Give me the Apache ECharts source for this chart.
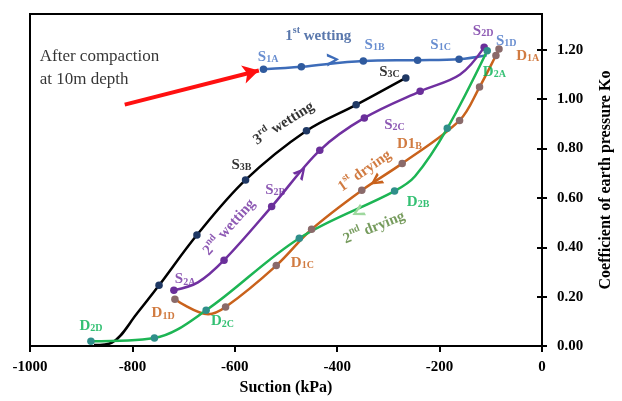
<!DOCTYPE html>
<html><head><meta charset="utf-8">
<script src="https://cdn.jsdelivr.net/npm/echarts@6/dist/echarts.min.js"></script>
<style>html,body{margin:0;padding:0;background:#fff}#c{width:622px;height:401px}</style>
</head><body><div id="c"></div>
<script>
// ---- data (suction kPa, Ko, dot flag) ----
const wetting1 = [[-544,1.121,1],[-470,1.131,1],[-349,1.155,1],[-243,1.158,1],[-162,1.162,1],[-108,1.178,0]];
const wetting2 = [[-719,0.226,1],[-672,0.258,0],[-621,0.348,1],[-528,0.565,1],[-434,0.793,1],[-347,0.924,1],[-238,1.032,1],[-160,1.10,0],[-113,1.21,1]];
const wetting3 = [[-875,0.004,0],[-840,0.014,0],[-790,0.135,0],[-748,0.246,1],[-674,0.45,1],[-579,0.673,1],[-460,0.872,1],[-363,0.977,1],[-266,1.086,1]];
const drying1 = [[-84,1.203,1],[-90,1.177,1],[-122,1.049,1],[-161,0.914,1],[-273,0.74,1],[-352,0.631,1],[-450,0.473,1],[-519,0.326,1],[-618,0.158,1],[-652,0.129,0],[-717,0.19,1]];
const drying2 = [[-107,1.196,1],[-185,0.882,1],[-248,0.688,0],[-288,0.628,1],[-474,0.437,1],[-656,0.145,1],[-757,0.033,1],[-881,0.02,1]];
// arrows on curves: [suction, Ko, direction deg]
const arrow1 = [-408,1.16,3];
const arrow2 = [-470,0.704,50];
const arrow3 = [-325,0.668,214];
const arrow4 = [-360,0.542,207];
// red pointer arrow
const pointerFrom = [-815,0.978];
const pointerTo = [-553,1.116];
const xTicks = [-1000,-800,-600,-400,-200,0];
const yTicks = [0,0.2,0.4,0.6,0.8,1.0,1.2];
// annotations: [suction, Ko, text, group, rotate]
const notes = [
 [-437,1.262,'{m|1}{p|st}{m| wetting}','w1',0],
 [-535,1.176,'{m|S}{s|1A}','s1',0],
 [-327,1.227,'{m|S}{s|1B}','s1',0],
 [-198,1.227,'{m|S}{s|1C}','s1',0],
 [-70,1.243,'{m|S}{s|1D}','s1',0],
 [-115,1.282,'{m|S}{s|2D}','s2',0],
 [-28,1.18,'{m|D}{s|1A}','d1',0],
 [-93,1.116,'{m|D}{s|2A}','d2',0],
 [-298,1.116,'{m|S}{s|3C}','s3',0],
 [-506,0.907,'{m|3}{p|rd}{m| wetting}','s3',32],
 [-587,0.738,'{m|S}{s|3B}','s3',0],
 [-288,0.903,'{m|S}{s|2C}','s2',0],
 [-259,0.824,'{m|D1}{s|B}','d1',0],
 [-348,0.714,'{m|1}{p|st}{m| drying}','d1',35],
 [-521,0.639,'{m|S}{s|2B}','s2',0],
 [-613,0.485,'{m|2}{p|nd}{m| wetting}','s2',48],
 [-697,0.276,'{m|S}{s|2A}','s2',0],
 [-740,0.138,'{m|D}{s|1D}','d1',0],
 [-624,0.106,'{m|D}{s|2C}','d2',0],
 [-881,0.087,'{m|D}{s|2D}','d2',0],
 [-468,0.343,'{m|D}{s|1C}','d1',0],
 [-329,0.485,'{m|2}{p|nd}{m| drying}','dd',22],
 [-242,0.588,'{m|D}{s|2B}','d2',0]
];
const compactionNote = [-981,1.126,'After compaction\nat 10m depth'];

// ---- styles ----
const F = 'Liberation Serif';
const groupColor = {w1:'#2f5597', s1:'#4472c4', s2:'#7030a0', s3:'#000000', d1:'#c55a11', d2:'#00b050', dd:'#548235'};
const rich = {
  m:{fontSize:15, fontWeight:'bold', fontFamily:F, verticalAlign:'bottom', lineHeight:18},
  s:{fontSize:10, fontWeight:'bold', fontFamily:F, verticalAlign:'bottom', lineHeight:14},
  p:{fontSize:10, fontWeight:'bold', fontFamily:F, verticalAlign:'top', lineHeight:18}
};
const chevron = 'path://M0,0L10,5L0,10L0,7.6L6.2,5L0,2.4Z';

function curve(name, arr, lineColor, dotColor, arrow, arrowColor){
  return {
    type:'line', name, smooth:0.35, symbol:'circle', symbolSize:7.5,
    lineStyle:{color:lineColor, width:2.5}, itemStyle:{color:dotColor},
    data: arr.map(p => p[2] ? {value:[p[0],p[1]]} : {value:[p[0],p[1]], symbol:'none'}),
    z:3,
    markPoint:{
      symbol:chevron, symbolSize:[12,13], silent:true, label:{show:false},
      itemStyle:{color:arrowColor||lineColor},
      data:[{coord:[arrow[0],arrow[1]], symbolRotate:arrow[2]}]
    }
  };
}

const chart = echarts.init(document.getElementById('c'), null, {renderer:'canvas'});
chart.setOption({
  animation:false,
  backgroundColor:'#fff',
  grid:{left:30, right:74, top:14, bottom:46, show:true, borderColor:'#000', borderWidth:2, backgroundColor:'transparent'},
  xAxis:{
    type:'value', min:xTicks[0], max:xTicks[xTicks.length-1], interval:200,
    name:'Suction (kPa)', nameLocation:'middle', nameGap:30,
    nameTextStyle:{fontFamily:F, fontWeight:'bold', fontSize:16, color:'#000'},
    axisLine:{show:true, onZero:false, lineStyle:{color:'#000', width:2}},
    axisTick:{show:true, length:6, lineStyle:{color:'#000', width:2}},
    axisLabel:{fontFamily:F, fontWeight:'bold', fontSize:15, color:'#000', margin:14, formatter: v => String(v)},
    splitLine:{show:false}
  },
  yAxis:[{
    type:'value', position:'right', min:0, max:1.345, interval:0.2,
    name:'Coefficient of earth pressure Ko', nameLocation:'middle', nameRotate:90, nameGap:56,
    nameTextStyle:{fontFamily:F, fontWeight:'bold', fontSize:16, color:'#000'},
    axisLine:{show:true, onZero:false, lineStyle:{color:'#000', width:2}},
    axisTick:{show:true, length:5, lineStyle:{color:'#000', width:2}},
    axisLabel:{fontFamily:F, fontWeight:'bold', fontSize:15, color:'#000', margin:15, showMaxLabel:false,
      formatter: v => yTicks.some(t => Math.abs(t-v)<1e-6) ? v.toFixed(2) : ''},
    splitLine:{show:false}
  },{
    type:'value', position:'right', min:0, max:1.345, interval:0.2,
    axisLine:{show:false}, axisLabel:{show:false}, splitLine:{show:false},
    axisTick:{show:true, inside:true, length:5, lineStyle:{color:'#000', width:2}}
  }],
  series:[
    curve('1st wetting', wetting1, '#3d6cb9', '#2f5a9e', arrow1),
    curve('3rd wetting', wetting3, '#000000', '#1f3864', [0,0,0], 'transparent'),
    curve('2nd wetting', wetting2, '#7030a0', '#6a2f9a', arrow2),
    curve('1st drying', drying1, '#c9621c', '#8a6a6a', arrow3),
    curve('2nd drying', drying2, '#1db554', '#2f8f8a', arrow4, '#9ed89e'),
    {
      type:'scatter', name:'pointer', data:[], silent:true,
      markLine:{
        silent:true, symbol:['none','arrow'], symbolSize:[14,16], label:{show:false},
        lineStyle:{color:'#ff1010', width:4, type:'solid'},
        data:[[{coord:pointerFrom},{coord:pointerTo}]]
      }
    },
    {
      type:'scatter', name:'notes', symbolSize:0, silent:true, z:10,
      data: notes.map(n => ({
        value:[n[0],n[1]],
        label:{show:true, position:[0,0], align:'center', verticalAlign:'middle',
          formatter:n[2], color:groupColor[n[3]], rotate:n[4], rich}
      }))
    },
    {
      type:'scatter', name:'compaction', symbolSize:0, silent:true, z:10,
      data:[{value:[compactionNote[0],compactionNote[1]],
        label:{show:true, position:[0,0], align:'left', verticalAlign:'middle',
          formatter:compactionNote[2], color:'#000', fontFamily:F, fontSize:17, lineHeight:23}}]
    }
  ]
});
</script></body></html>
